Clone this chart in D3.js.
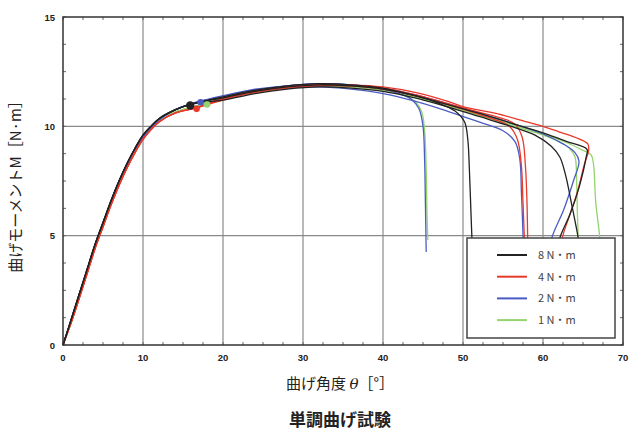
<!DOCTYPE html>
<html><head><meta charset="utf-8">
<script src="https://cdn.jsdelivr.net/npm/d3@7/dist/d3.min.js"></script>
<style>body{margin:0;background:#fff}svg{display:block}</style>
</head><body>
<svg id="c" width="630" height="431"></svg>
<script>
// ---- data ----
const xTicks = [0,10,20,30,40,50,60,70];
const yTicks = [0,5,10,15];
const seriesNames = ["8 N・m","4 N・m","2 N・m","1 N・m"];
const seriesColors = ["#222222","#e8392b","#4a5cc4","#93d46c"];

// common initial rise per series
const riseBlack = [[0,0],[1,1.15],[2,2.3],[3,3.45],[4,4.6],[5,5.6],[6,6.6],[7,7.5],[8,8.3],[9,9.0],[10,9.6],[11,10.0],[12,10.35],[14,10.75],[15.9,11.0]];
const riseRed   = [[0,0],[1,1.0],[2,2.1],[3,3.25],[4,4.4],[5,5.4],[6,6.4],[7,7.3],[8,8.1],[9,8.8],[10,9.4],[11,9.85],[12,10.2],[14,10.6],[16.7,10.85]];
const riseBlue  = [[0,0],[1,1.1],[2,2.25],[3,3.4],[4,4.55],[5,5.55],[6,6.55],[7,7.45],[8,8.25],[9,8.95],[10,9.5],[11,9.95],[12,10.3],[14,10.75],[17.2,11.15]];
const riseGreen = [[0,0],[1,1.0],[2,2.15],[3,3.3],[4,4.45],[5,5.45],[6,6.45],[7,7.35],[8,8.15],[9,8.85],[10,9.45],[11,9.9],[12,10.25],[14,10.65],[18,11.05]];

// tails of each specimen curve
const k1 = [[20,11.35],[24,11.65],[28,11.85],[32,11.95],[36,11.9],[40,11.75],[44,11.4],[47,11.05],[49,10.7],[50.2,10.2],[50.6,9.4],[50.8,8],[51,6],[51.2,4],[51.3,2.5]];
const k2 = [[20,11.3],[24,11.6],[28,11.8],[32,11.9],[36,11.85],[40,11.7],[44,11.4],[48,11.0],[52,10.6],[56,10.15],[60,9.7],[63,9.3],[65.5,8.95],[65.4,8.6],[64.5,7.2],[63.4,6],[62.1,4.9],[61.2,3.5],[60.5,2.5]];
const k3 = [[20,11.2],[24,11.5],[28,11.7],[32,11.8],[36,11.75],[40,11.6],[44,11.3],[48,10.9],[52,10.45],[56,10.0],[59,9.6],[61,9.1],[62.1,8.6],[62.8,7.8],[63.6,6.4],[64.4,4.9],[65,3.5],[65.5,2.5]];
const r1 = [[20,11.25],[24,11.6],[28,11.8],[32,11.9],[36,11.9],[40,11.8],[44,11.55],[48,11.15],[50,10.9],[54,10.6],[58,10.2],[60,10.0],[62,9.75],[64,9.5],[65.6,9.2],[65.7,8.9],[65.2,8.3],[64.3,7],[63.2,5.8],[62.4,4.9],[61.6,3.5]];
const r2 = [[20,11.2],[24,11.55],[28,11.75],[32,11.85],[36,11.85],[40,11.7],[44,11.4],[48,11.0],[52,10.55],[54,10.3],[55.8,10.0],[56.8,9.4],[57.3,8.2],[57.5,6.5],[57.7,4.5],[57.8,2.5]];
const r3 = [[20,11.3],[24,11.6],[28,11.8],[32,11.9],[36,11.85],[40,11.75],[44,11.45],[48,11.05],[52,10.65],[55,10.35],[56.5,10.1],[57.4,9.5],[57.8,8.2],[58,6.5],[58.1,4.5],[58.2,2.5]];
const b1 = [[20,11.4],[24,11.7],[28,11.85],[32,11.95],[36,11.9],[40,11.7],[42,11.5],[43.5,11.25],[44.5,10.8],[45,10.0],[45.2,8.5],[45.3,6.5],[45.4,4.25]];
const b2 = [[20,11.3],[24,11.6],[28,11.75],[32,11.8],[36,11.7],[40,11.5],[44,11.15],[48,10.7],[52,10.2],[55,9.8],[56.5,9.3],[57.1,8.5],[57.3,7],[57.5,5],[57.6,2.5]];
const b3 = [[20,11.35],[24,11.65],[28,11.85],[32,11.95],[36,11.9],[40,11.75],[44,11.45],[48,11.05],[52,10.6],[56,10.15],[60,9.65],[62.5,9.2],[64,8.8],[64.5,8.4],[63.8,7.5],[62.6,6.2],[61.1,4.9],[60.4,3.5],[59.9,2.5]];
const g1 = [[20,11.3],[24,11.6],[28,11.8],[32,11.9],[36,11.85],[40,11.7],[42,11.5],[43.8,11.2],[44.8,10.7],[45.2,9.8],[45.4,8],[45.5,6],[45.6,4.8]];
const g2 = [[20,11.25],[24,11.55],[28,11.75],[32,11.85],[36,11.8],[40,11.65],[44,11.35],[48,10.95],[52,10.5],[56,10.05],[60,9.6],[62,9.3],[63.3,9.0],[64,8.6],[64.2,7.5],[64.3,6],[64.4,4.9],[64.5,3]];
const g3 = [[20,11.25],[24,11.55],[28,11.75],[32,11.85],[36,11.8],[40,11.65],[44,11.35],[48,10.95],[52,10.55],[56,10.1],[60,9.65],[63,9.25],[65,8.9],[66,8.7],[66.3,8.3],[66.6,6.5],[67.1,4.9],[67.3,3.5]];

// marker (first-peak) points per series
const markers = [[15.9,10.95],[16.7,10.8],[17.2,11.1],[18.0,11.0]];

const seriesRise = [riseBlack, riseRed, riseBlue, riseGreen];
const seriesTails = [[k1,k2,k3],[r1,r2,r3],[b1,b2,b3],[g1,g2,g3]];

// ---- drawing ----
const svg = d3.select("#c");
const L = 63, R = 623, T = 17, B = 345;
const x = d3.scaleLinear().domain([0,70]).range([L,R]);
const y = d3.scaleLinear().domain([0,15]).range([B,T]);

// grid
const g = svg.append("g");
g.selectAll(".vg").data(xTicks.filter(d=>d>0&&d<70)).join("line")
  .attr("x1",d=>x(d)).attr("x2",d=>x(d)).attr("y1",T).attr("y2",B)
  .attr("stroke","#8a8a8a").attr("stroke-width",1.2);
g.selectAll(".hg").data(yTicks.filter(d=>d>0&&d<15)).join("line")
  .attr("y1",d=>y(d)).attr("y2",d=>y(d)).attr("x1",L).attr("x2",R)
  .attr("stroke","#8a8a8a").attr("stroke-width",1.2);

// minor ticks
const xMinor = d3.range(0,70.01,2.5);
const yMinor = d3.range(0,15.01,1.25);
g.selectAll(".xm").data(xMinor).join("line")
  .attr("x1",d=>x(d)).attr("x2",d=>x(d)).attr("y1",B).attr("y2",B-3)
  .attr("stroke","#666").attr("stroke-width",1);
g.selectAll(".xm2").data(xMinor).join("line")
  .attr("x1",d=>x(d)).attr("x2",d=>x(d)).attr("y1",T).attr("y2",T+3)
  .attr("stroke","#666").attr("stroke-width",1);
g.selectAll(".ym").data(yMinor).join("line")
  .attr("y1",d=>y(d)).attr("y2",d=>y(d)).attr("x1",L).attr("x2",L+3)
  .attr("stroke","#666").attr("stroke-width",1);
g.selectAll(".ym2").data(yMinor).join("line")
  .attr("y1",d=>y(d)).attr("y2",d=>y(d)).attr("x1",R).attr("x2",R-3)
  .attr("stroke","#666").attr("stroke-width",1);

// curves
const line = d3.line().x(d=>x(d[0])).y(d=>y(d[1])).curve(d3.curveCatmullRom.alpha(0.5));
const curves = [];
seriesTails.forEach((tails,si)=>{
  tails.forEach(t=>curves.push({si, pts: seriesRise[si].concat(t)}));
});
// draw order: green, blue, red, black on top
const order = [3,2,1,0];
order.forEach(si=>{
  svg.append("g").selectAll("path").data(curves.filter(c=>c.si===si)).join("path")
    .attr("d",c=>line(c.pts)).attr("fill","none")
    .attr("stroke",seriesColors[si]).attr("stroke-width",1.3).attr("stroke-linejoin","round");
});

// markers
order.forEach(si=>{
  svg.append("circle").attr("cx",x(markers[si][0])).attr("cy",y(markers[si][1]))
    .attr("r", si===0?4.2:3.3).attr("fill",seriesColors[si]);
});

// frame
svg.append("rect").attr("x",L).attr("y",T).attr("width",R-L).attr("height",B-T)
  .attr("fill","none").attr("stroke","#333").attr("stroke-width",1.5);

// tick labels
svg.append("g").selectAll("text").data(xTicks).join("text")
  .attr("x",d=>x(d)).attr("y",B+16).attr("text-anchor","middle")
  .attr("font-family","Liberation Sans, Arial, sans-serif").attr("font-weight","bold")
  .attr("font-size",9.5).attr("fill","#222").text(d=>d);
svg.append("g").selectAll("text").data(yTicks).join("text")
  .attr("x",L-8).attr("y",d=>y(d)+3.5).attr("text-anchor","end")
  .attr("font-family","Liberation Sans, Arial, sans-serif").attr("font-weight","bold")
  .attr("font-size",9.5).attr("fill","#222").text(d=>d);

// legend
const lg = svg.append("g");
lg.append("rect").attr("x",467).attr("y",238).attr("width",148).attr("height",100)
  .attr("fill","#fff").attr("stroke","#444").attr("stroke-width",1.5);
seriesNames.forEach((n,i)=>{
  const yy = 255 + i*21.7;
  lg.append("line").attr("x1",497).attr("x2",527).attr("y1",yy).attr("y2",yy)
    .attr("stroke",seriesColors[i]).attr("stroke-width",2);
  lg.append("text").attr("x",538).attr("y",yy+4).attr("font-size",11)
    .attr("font-family","Noto Sans CJK JP, sans-serif").attr("fill","#444").text(n);
});

// axis titles
const jp = "Noto Sans CJK JP, sans-serif";
const xt = svg.append("text").attr("x",340).attr("y",389).attr("text-anchor","middle")
  .attr("font-family",jp).attr("font-size",15).attr("fill","#222");
xt.append("tspan").text("曲げ角度 ");
xt.append("tspan").attr("font-style","italic").attr("font-family","DejaVu Serif, serif").text("θ");
xt.append("tspan").text("［°］");

svg.append("text").attr("transform","translate(21,183) rotate(-90)").attr("text-anchor","middle")
  .attr("font-family",jp).attr("font-size",15).attr("fill","#222").text("曲げモーメントM［N·m］");

svg.append("text").attr("x",340).attr("y",426).attr("text-anchor","middle")
  .attr("font-family",jp).attr("font-weight","bold").attr("font-size",17).attr("fill","#222").text("単調曲げ試験");
</script>
</body></html>
